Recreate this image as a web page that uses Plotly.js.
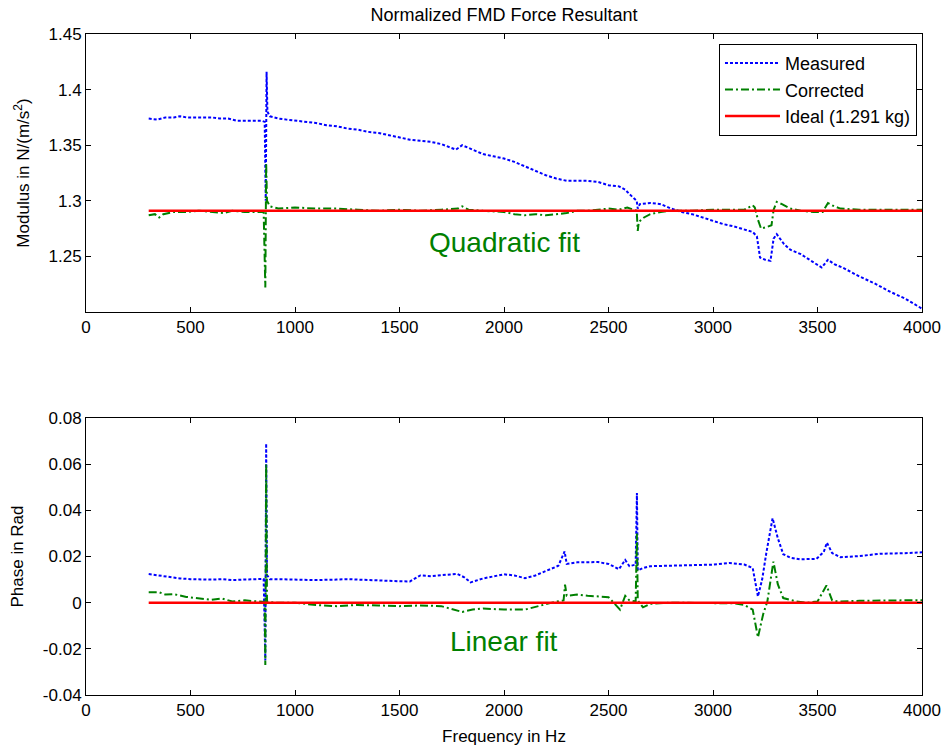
<!DOCTYPE html>
<html>
<head>
<meta charset="utf-8">
<script src="https://cdn.plot.ly/plotly-3.0.1.min.js"></script>
<style>html,body{margin:0;padding:0;background:#fff;}#chart{width:945px;height:751px;}</style>
</head>
<body>
<div id="chart"></div>
<script>
// ---------- Modulus (top panel) ----------
const modMeasFreq = [300,340,380,420,450,480,520,560,600,640,680,720,760,800,840,855,860,864,868,880,920,960,1000,1050,1100,1150,1200,1250,1300,1350,1400,1450,1500,1550,1600,1650,1700,1750,1770,1800,1850,1900,1950,2000,2050,2100,2150,2200,2250,2300,2350,2400,2450,2500,2550,2580,2600,2620,2635,2640,2650,2700,2750,2800,2850,2900,2950,3000,3050,3100,3150,3190,3210,3225,3250,3275,3290,3305,3340,3370,3420,3470,3520,3550,3580,3620,3700,3770,3850,3920,4000];
const modMeasured = [1.374,1.373,1.375,1.375,1.376,1.375,1.375,1.375,1.375,1.374,1.374,1.372,1.372,1.372,1.372,1.371,1.300,1.416,1.380,1.376,1.374,1.373,1.372,1.371,1.370,1.368,1.367,1.365,1.364,1.362,1.361,1.359,1.357,1.355,1.354,1.353,1.351,1.347,1.346,1.350,1.346,1.342,1.340,1.338,1.335,1.331,1.327,1.323,1.320,1.318,1.318,1.318,1.317,1.314,1.313,1.310,1.306,1.303,1.300,1.293,1.297,1.298,1.297,1.293,1.290,1.288,1.285,1.282,1.279,1.277,1.274,1.272,1.268,1.249,1.247,1.246,1.266,1.270,1.261,1.256,1.252,1.246,1.240,1.247,1.243,1.240,1.232,1.226,1.218,1.212,1.203];

const modCorrFreq = [300,330,350,370,420,480,540,600,660,700,760,820,850,858,862,866,880,920,1000,1100,1200,1300,1400,1500,1600,1700,1780,1800,1830,1900,2000,2050,2100,2150,2200,2250,2300,2350,2400,2450,2500,2550,2590,2620,2635,2640,2645,2670,2700,2750,2800,2900,3000,3100,3150,3190,3200,3215,3230,3250,3280,3290,3305,3330,3370,3420,3480,3525,3550,3580,3610,3700,3800,3900,4000];
const modCorrected = [1.287,1.288,1.285,1.288,1.290,1.290,1.291,1.290,1.289,1.291,1.290,1.290,1.290,1.222,1.334,1.300,1.295,1.293,1.294,1.293,1.293,1.292,1.291,1.292,1.291,1.292,1.293,1.295,1.292,1.291,1.290,1.288,1.287,1.288,1.287,1.288,1.289,1.291,1.291,1.292,1.293,1.292,1.294,1.292,1.291,1.273,1.281,1.285,1.288,1.290,1.291,1.291,1.292,1.292,1.292,1.296,1.294,1.283,1.275,1.276,1.278,1.292,1.299,1.297,1.293,1.291,1.290,1.290,1.298,1.295,1.293,1.292,1.292,1.292,1.292];

const idealFreq = [300,4000];
const idealModulus = [1.291,1.291];
const idealPhase = [0,0];

// ---------- Phase (bottom panel) ----------
const phMeasFreq = [300,350,400,450,500,550,600,650,700,750,800,850,858,862,866,880,950,1000,1100,1200,1250,1300,1400,1500,1550,1600,1650,1700,1775,1810,1840,1900,1950,2000,2050,2100,2150,2200,2260,2290,2300,2350,2400,2450,2500,2550,2580,2600,2630,2636,2640,2665,2700,2800,2900,3000,3080,3150,3190,3215,3235,3255,3285,3310,3336,3370,3416,3495,3530,3545,3570,3610,3700,3800,3900,4000];
const phMeasured = [0.0124,0.0118,0.0110,0.0105,0.0102,0.0100,0.0100,0.0102,0.0098,0.0100,0.0102,0.0103,-0.025,0.069,0.012,0.0102,0.0101,0.0100,0.0098,0.0100,0.0102,0.0100,0.0095,0.0093,0.0092,0.0118,0.0115,0.0118,0.0125,0.0110,0.0088,0.0105,0.0115,0.0123,0.0118,0.0106,0.0118,0.0138,0.0160,0.0222,0.0168,0.0175,0.0175,0.0176,0.0168,0.0145,0.0185,0.0158,0.0165,0.0475,0.0140,0.0150,0.0158,0.0160,0.0162,0.0165,0.0172,0.0165,0.0150,0.0027,0.0100,0.0215,0.0366,0.0280,0.0210,0.0195,0.0188,0.0190,0.0220,0.0260,0.0215,0.0197,0.0202,0.0212,0.0214,0.0218];

const phCorrFreq = [300,350,380,420,480,540,600,650,700,760,820,855,858,862,866,900,1000,1100,1200,1300,1400,1500,1600,1700,1800,1850,1900,2000,2100,2200,2250,2285,2292,2300,2350,2400,2450,2500,2555,2580,2600,2630,2636,2640,2665,2700,2800,2900,3000,3100,3150,3190,3215,3240,3260,3289,3310,3336,3400,3450,3500,3543,3570,3600,3700,3800,3900,4000];
const phCorrected = [0.0045,0.0045,0.0035,0.0037,0.0025,0.0020,0.0012,0.0018,0.0005,0.0010,0.0005,0.0003,-0.027,0.060,0.0005,0.0000,0.0000,-0.0010,-0.0015,-0.0010,-0.0012,-0.0015,-0.0012,-0.0015,-0.0040,-0.0030,-0.0025,-0.0030,-0.0030,-0.0005,0.0005,0.0010,0.0078,0.0030,0.0035,0.0030,0.0028,0.0024,-0.0030,0.0030,0.0010,0.0005,0.0300,0.0010,-0.0020,-0.0005,0.0000,0.0000,0.0000,-0.0003,-0.0010,-0.0030,-0.0150,-0.0050,0.0005,0.0178,0.0080,0.0020,0.0005,0.0000,0.0005,0.0075,0.0010,0.0005,0.0008,0.0010,0.0010,0.0010];

const seriesNames = ['Measured','Corrected','Ideal (1.291 kg)'];
const xTicks = [0,500,1000,1500,2000,2500,3000,3500,4000];
const modTicks = [1.25,1.3,1.35,1.4,1.45];
const modTickText = ['1.25','1.3','1.35','1.4','1.45'];
const phTicks = [-0.04,-0.02,0,0.02,0.04,0.06,0.08];
const phTickText = ['-0.04','-0.02','0','0.02','0.04','0.06','0.08'];

const BLUE = 'rgb(0,0,255)', GREEN = 'rgb(0,128,0)', RED = 'rgb(255,0,0)';
const FONT = 'Arial, "Liberation Sans", Helvetica, sans-serif';

const traces = [
  {x: modMeasFreq, y: modMeasured, name: seriesNames[0], mode:'lines', xaxis:'x', yaxis:'y',
   line:{color:BLUE, width:2, dash:'3px,2px'}},
  {x: modCorrFreq, y: modCorrected, name: seriesNames[1], mode:'lines', xaxis:'x', yaxis:'y',
   line:{color:GREEN, width:2, dash:'8px,3px,2px,3px'}},
  {x: idealFreq, y: idealModulus, name: seriesNames[2], mode:'lines', xaxis:'x', yaxis:'y',
   line:{color:RED, width:2.5}},
  {x: phMeasFreq, y: phMeasured, name: seriesNames[0], mode:'lines', xaxis:'x2', yaxis:'y2', showlegend:false,
   line:{color:BLUE, width:2, dash:'3px,2px'}},
  {x: phCorrFreq, y: phCorrected, name: seriesNames[1], mode:'lines', xaxis:'x2', yaxis:'y2', showlegend:false,
   line:{color:GREEN, width:2, dash:'8px,3px,2px,3px'}},
  {x: idealFreq, y: idealPhase, name: seriesNames[2], mode:'lines', xaxis:'x2', yaxis:'y2', showlegend:false,
   line:{color:RED, width:2.5}}
];

const axisCommon = {
  showline:true, linecolor:'#000', linewidth:1, mirror:'ticks',
  ticks:'inside', ticklen:5, tickcolor:'#000', tickwidth:1,
  showgrid:false, zeroline:false,
  tickfont:{family:FONT, size:17, color:'#000'}
};
const titleFont = {family:FONT, size:17, color:'#000'};

const layout = {
  width:945, height:751,
  paper_bgcolor:'#fff', plot_bgcolor:'#fff',
  margin:{l:86, r:23, t:34, b:56},
  font:{family:FONT, color:'#000'},
  showlegend:true,
  title:{text:'Normalized FMD Force Resultant', font:{family:FONT, size:18, color:'#000'},
         x:0.5, xref:'paper', y:1-15/751, yref:'container', yanchor:'middle'},
  xaxis: Object.assign({}, axisCommon, {domain:[0,1], anchor:'y', range:[0,4000], tickvals:xTicks, ticktext:xTicks.map(String)}),
  yaxis: Object.assign({}, axisCommon, {domain:[0.5794,1], anchor:'x', range:[1.2,1.45], tickvals:modTicks, ticktext:modTickText,
         title:{text:'Modulus in N/(m/s<sup>2</sup>)', font:titleFont, standoff:14}}),
  xaxis2: Object.assign({}, axisCommon, {domain:[0,1], anchor:'y2', range:[0,4000], tickvals:xTicks, ticktext:xTicks.map(String),
         title:{text:'Frequency in Hz', font:titleFont, standoff:10}}),
  yaxis2: Object.assign({}, axisCommon, {domain:[0,0.419], anchor:'x2', range:[-0.04,0.08], tickvals:phTicks, ticktext:phTickText,
         title:{text:'Phase in Rad', font:titleFont, standoff:14}}),
  legend:{x:0.994, xanchor:'right', y:0.985, yanchor:'top', bgcolor:'#fff', bordercolor:'#000', borderwidth:1,
          font:{family:FONT, size:18, color:'#000'}, itemwidth:55},
  annotations:[
    {x:2000, y:1.2626, xref:'x', yref:'y', text:'Quadratic fit', showarrow:false,
     font:{family:FONT, size:28, color:GREEN}},
    {x:2000, y:-0.0168, xref:'x2', yref:'y2', text:'Linear fit', showarrow:false,
     font:{family:FONT, size:28, color:GREEN}}
  ]
};

Plotly.newPlot('chart', traces, layout, {displayModeBar:false, staticPlot:true});
</script>
</body>
</html>
